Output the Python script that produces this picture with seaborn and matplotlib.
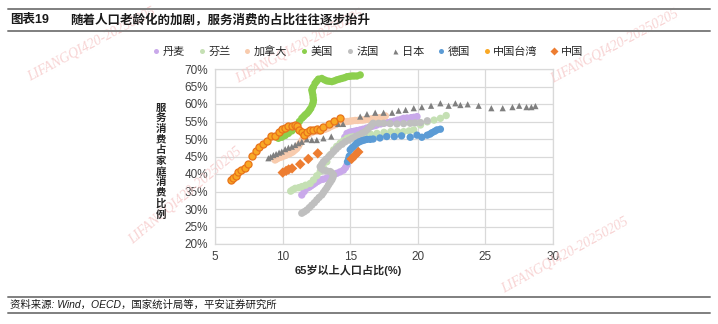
import numpy as np
import pandas as pd
import matplotlib
matplotlib.use("Agg")
import matplotlib.pyplot as plt
import seaborn as sns
from matplotlib.lines import Line2D

sns.set_theme(style="white")
plt.rcParams['font.family'] = ['Liberation Sans', 'Noto Sans CJK SC', 'DejaVu Sans']
plt.rcParams['axes.unicode_minus'] = False

# ---------------- data ----------------
denmark_x = [11.42, 11.6, 11.79, 11.95, 12.1, 12.25, 12.4, 12.6, 12.78, 13.0, 13.25, 13.5, 13.75,
             14.01, 14.25, 14.5, 14.65, 14.76,
             14.6, 14.76, 14.95, 15.13, 15.3, 15.5, 15.74, 15.95, 16.2, 16.4, 16.6, 16.8, 16.96,
             17.25, 17.5, 17.75, 18.0, 18.25, 18.5, 18.75, 18.95, 19.2, 19.5, 19.7, 19.94]
denmark_y = [34.0, 35.0, 35.9, 36.2, 36.6, 37.0, 37.4, 37.9, 38.3, 38.5, 38.8, 39.2, 39.7,
             40.2, 40.6, 41.1, 41.8, 42.6,
             50.5, 51.6, 51.9, 52.1, 52.2, 52.4, 52.6, 52.8, 53.1, 53.3, 53.6, 53.8, 54.0,
             54.3, 54.5, 54.7, 54.9, 55.1, 55.4, 55.6, 55.9, 56.0, 56.1, 56.2, 56.4]

finland_x = [10.6, 10.75, 10.93, 11.2, 11.42, 11.7, 12.04, 12.28, 12.53, 12.78, 13.0, 13.27,
             13.5, 13.77, 14.0, 14.26, 14.5, 14.76, 15.0, 15.25, 15.6, 16.0, 16.5, 16.98, 17.5,
             18.0, 18.5, 18.95, 19.35, 19.7, 20.2, 20.7, 21.2, 21.67, 22.1]
finland_y = [35.1, 35.5, 35.9, 36.1, 36.4, 36.8, 37.3, 38.3, 39.5, 40.7, 42.0, 43.5,
             45.4, 46.9, 47.9, 48.8, 49.5, 50.2, 50.5, 50.7, 51.0, 51.2, 51.4, 51.6, 51.9,
             52.1, 52.1, 52.1, 52.3, 52.6, 54.0, 54.9, 55.4, 55.9, 56.7]

canada_x = [9.44, 9.57, 9.7, 9.88, 10.06, 10.2, 10.3, 10.45, 10.56, 10.7, 10.8, 10.93, 11.05,
            11.18, 11.3, 11.42, 11.54, 11.67, 11.8, 11.92, 12.04, 12.16, 12.28, 12.4, 12.53,
            12.65, 12.78, 12.9, 13.02, 13.15, 13.27, 13.4, 13.5, 13.64, 13.77, 13.9, 14.0, 14.13,
            14.26, 14.43, 14.6, 14.8, 15.0, 15.18, 15.37, 15.55, 15.74, 15.92, 16.1, 16.3,
            16.48, 16.66, 16.84, 17.02, 17.2, 17.4, 17.6]
canada_y = [44.0, 44.3, 44.6, 44.8, 45.1, 45.3, 45.5, 45.7, 45.9, 46.2, 46.5, 46.9, 47.3,
            48.0, 48.8, 49.5, 50.2, 50.7, 51.1, 51.4, 51.7, 51.9, 52.1, 52.2, 52.2,
            52.3, 52.4, 52.5, 52.7, 52.8, 53.0, 53.2, 53.5, 53.7, 54.0, 54.1, 54.3, 54.5,
            54.7, 54.8, 54.9, 55.0, 55.1, 55.2, 55.3, 55.3, 55.4, 55.4, 55.5, 55.6,
            55.7, 55.8, 55.9, 56.0, 56.1, 56.3, 56.6]

usa_x = [9.69, 9.94, 10.19, 10.43, 10.68, 10.93, 11.1, 11.24, 11.42, 11.55, 11.67, 11.8, 11.91,
         12.0, 12.09, 12.2, 12.26, 12.28, 12.26, 12.24, 12.2, 12.16, 12.22, 12.28, 12.4,
         12.52, 12.65, 12.9, 13.1, 13.27, 13.45, 13.64, 13.82, 14.01, 14.2, 14.38, 14.57,
         14.76, 14.95, 15.13, 15.3, 15.5, 15.74]
usa_y = [50.2, 50.5, 51.0, 51.6, 52.3, 53.0, 54.0, 55.0, 55.9, 56.4, 56.9, 57.3, 57.8,
         58.3, 58.8, 59.7, 60.4, 61.1, 61.8, 62.6, 63.3, 64.0, 64.5, 64.9, 65.9,
         66.5, 67.1, 67.3, 66.9, 66.6, 66.5, 66.4, 66.6, 66.9, 67.1, 67.3, 67.5,
         67.8, 67.9, 68.0, 68.0, 68.0, 68.3]

france_x = [11.42, 11.6, 11.79, 11.98, 12.16, 12.35, 12.53, 12.7, 12.9, 13.02, 13.15, 13.28, 13.4,
            13.52, 13.64, 13.72, 13.77, 13.65, 13.52, 13.25, 13.02, 12.85, 12.78, 12.9, 13.02,
            13.2, 13.4, 13.6, 13.77, 13.95, 14.14, 14.4, 14.63, 14.9, 15.13, 15.38, 15.62,
            15.86, 16.1, 16.3, 16.48, 16.6, 16.7, 17.1, 17.47, 17.95, 18.46, 18.95, 19.44,
            19.8, 20.2, 20.7]
france_y = [28.8, 29.2, 29.7, 30.4, 31.1, 31.8, 32.6, 33.3, 34.0, 34.7, 35.4, 36.1, 36.9,
            37.6, 38.3, 39.0, 39.7, 40.3, 40.7, 40.9, 41.1, 41.6, 42.1, 42.8, 43.5,
            44.2, 44.9, 45.7, 46.4, 47.1, 47.8, 48.5, 49.2, 49.7, 50.2, 50.7, 51.1,
            51.6, 52.1, 52.8, 53.5, 54.0, 54.5, 54.5, 54.5, 54.4, 54.3, 54.4, 54.5,
            54.6, 54.7, 55.2]

japan_x = [8.95, 9.12, 9.32, 9.52, 9.74, 9.94, 10.19, 10.43, 10.68, 10.93, 11.17, 11.42, 11.79,
           12.16, 12.53, 13.02, 13.6, 14.1, 14.47, 15.74, 16.24, 16.85, 17.47, 18.1, 18.58,
           19.1, 19.7, 20.3, 20.98, 21.67, 22.28, 22.78, 23.15, 23.69, 24.5, 25.44, 26.28,
           27.0, 27.5, 28.04, 28.4, 28.7]
japan_y = [44.5, 44.9, 45.4, 45.7, 46.1, 46.4, 47.1, 47.5, 47.8, 48.3, 48.8, 49.2, 49.9,
           49.7, 49.7, 50.2, 50.7, 54.3, 54.3, 56.4, 57.1, 57.5, 57.5, 57.5, 58.1,
           58.3, 58.8, 59.1, 59.5, 60.2, 59.5, 60.2, 59.7, 59.9, 59.5, 58.8, 58.8,
           59.1, 59.5, 59.1, 59.1, 59.4]

germany_x = [14.8, 14.88, 14.93, 15.0, 15.12, 15.25, 15.37, 15.5, 15.68, 15.87, 16.05, 16.24,
             16.48, 16.7, 17.2, 17.7, 18.26, 18.8, 19.44, 19.94, 20.3, 20.7, 20.9, 21.05,
             21.25, 21.42, 21.67]
germany_y = [43.5, 44.3, 45.1, 46.9, 47.4, 47.8, 48.3, 48.8, 49.2, 49.5, 49.7, 49.9,
             49.9, 50.0, 50.3, 50.7, 50.7, 50.9, 50.5, 51.1, 50.5, 51.1, 51.4, 51.8,
             52.2, 52.6, 52.8]

taiwan_x = [6.19, 6.36, 6.56, 6.68, 6.9, 7.2, 7.47, 7.7, 8.0, 8.28, 8.53, 8.83, 9.15, 9.44,
            9.74, 9.94, 10.19, 10.43, 10.68, 10.93, 11.1, 11.24, 11.42, 11.6, 11.8, 12.04,
            12.28, 12.53, 12.78, 13.02, 13.4, 13.77, 14.26]
taiwan_y = [38.3, 38.8, 39.4, 40.5, 41.1, 41.6, 43.0, 45.1, 46.6, 47.8, 48.5, 49.4, 50.9, 50.9,
            52.1, 52.9, 53.2, 53.7, 53.6, 54.0, 53.6, 52.6, 51.9, 51.1, 52.1, 52.6,
            52.6, 52.8, 52.6, 53.5, 54.3, 55.1, 55.9]

china_x = [10.01, 10.26, 10.45, 10.7, 11.3, 11.9, 12.6, 15.1, 15.35, 15.6]
china_y = [40.4, 40.9, 41.3, 41.6, 42.8, 44.3, 45.9, 44.3, 45.3, 46.3]

series_names = ['丹麦', '芬兰', '加拿大', '美国', '法国', '日本', '德国', '中国台湾', '中国']
series_x = [denmark_x, finland_x, canada_x, usa_x, france_x, japan_x, germany_x, taiwan_x, china_x]
series_y = [denmark_y, finland_y, canada_y, usa_y, france_y, japan_y, germany_y, taiwan_y, china_y]

x_ticks = [5, 10, 15, 20, 25, 30]
y_ticks = [20, 25, 30, 35, 40, 45, 50, 55, 60, 65, 70]

# ---------------- styles ----------------
colors = {'丹麦': '#C9A9EA', '芬兰': '#C5E0B4', '加拿大': '#F8CBAD', '美国': '#8CCF4D',
          '法国': '#BFBFBF', '日本': '#7F7F7F', '德国': '#5B9BD5', '中国台湾': '#F9A825',
          '中国': '#ED7D31'}
markers = {'丹麦': 'o', '芬兰': 'o', '加拿大': 'o', '美国': 'o', '法国': 'o', '日本': '^',
           '德国': 'o', '中国台湾': 'o', '中国': 'D'}
sizes = {'丹麦': 28, '芬兰': 28, '加拿大': 28, '美国': 28, '法国': 28, '日本': 20,
         '德国': 28, '中国台湾': 26, '中国': 28}
edges = {k: 'none' for k in colors}
edges['中国台湾'] = '#E8731A'

frames = []
for n, xs, ys in zip(series_names, series_x, series_y):
    frames.append(pd.DataFrame({'x': xs, 'y': ys, 'country': n}))
df = pd.concat(frames, ignore_index=True)

fig = plt.figure(figsize=(7.18, 3.24), dpi=100)

# faint watermarks (kept fully inside the canvas)
wm = 'LIFANGQI420-20250205'
for (px, py, rot) in [(92, 44, 28), (565, 255, 29), (300, 46, 28), (615, 46, 28), (185, 195, 40)]:
    fig.text(px/718, 1-py/324, wm, ha='center', va='center', rotation=rot, fontsize=10,
             family='Liberation Serif', style='italic', color='#F6C9C9', alpha=0.8, zorder=0)

ax = fig.add_axes([215/718, 1-244/324, (553-215)/718, (244-69)/324])
ax.patch.set_alpha(0)

for n in series_names:
    sub = df[df['country'] == n]
    sns.scatterplot(data=sub, x='x', y='y', ax=ax, color=colors[n], marker=markers[n],
                    s=sizes[n], edgecolor=edges[n],
                    linewidth=0.9 if n == '中国台湾' else 0, legend=False, zorder=3)

ax.set_xlim(5, 30)
ax.set_ylim(20, 70)
ax.set_xticks(x_ticks)
ax.set_xticklabels([str(t) for t in x_ticks])
ax.set_yticks(y_ticks)
ax.set_yticklabels([f'{t}%' for t in y_ticks])
ax.grid(True, color='#D9D9D9', linewidth=0.9, zorder=0)
ax.set_axisbelow(True)
for sp in ax.spines.values():
    sp.set_color('#D9D9D9')
    sp.set_linewidth(0.9)
ax.tick_params(axis='both', length=0, labelsize=8.5, colors='#404040', pad=5)
ax.set_xlabel('')
ax.set_ylabel('')

# axis titles
fig.text(348/718, 1-270/324, '65岁以上人口占比(%)', ha='center', va='center',
         fontsize=8, fontweight='bold', color='#262626')
ylab = '服务消费占家庭消费比例'
fig.text(161/718, 1-161/324, '\n'.join(ylab), ha='center', va='center',
         fontsize=7.5, fontweight='bold', color='#262626', linespacing=1.08)

# legend
handles = []
for n in series_names:
    handles.append(Line2D([], [], linestyle='none', marker=markers[n], markersize=3.6,
                          markerfacecolor=colors[n], markeredgecolor='none', label=n))
fig.legend(handles=handles, loc='center', bbox_to_anchor=(367/718, 1-51/324), ncol=9,
           frameon=False, fontsize=8, handletextpad=0.1, columnspacing=1.0,
           handlelength=1.0, labelcolor='#262626')

# title & frame lines
fig.add_artist(Line2D([8/718, 710/718], [1-9/324, 1-9/324], color='#7F7F7F', lw=1.4))
fig.add_artist(Line2D([8/718, 710/718], [1-31/324, 1-31/324], color='#7F7F7F', lw=1.4))
fig.text(10/718, 1-20/324, '图表19', ha='left', va='center', fontsize=9, fontweight='bold', color='#1a1a1a')
fig.text(70/718, 1-20/324, '随着人口老龄化的加剧，服务消费的占比往往逐步抬升', ha='left', va='center',
         fontsize=9, fontweight='bold', color='#1a1a1a')

fig.add_artist(Line2D([8/718, 710/718], [1-297/324, 1-297/324], color='#7F7F7F', lw=1.4))
fig.add_artist(Line2D([8/718, 710/718], [1-313/324, 1-313/324], color='#7F7F7F', lw=1.4))
fig.text(10/718, 1-305/324, '资料来源: Wind，OECD，国家统计局等，平安证券研究所', ha='left', va='center',
         fontsize=7.5, style='italic', color='#1a1a1a')

fig.savefig('out.png', dpi=100)
